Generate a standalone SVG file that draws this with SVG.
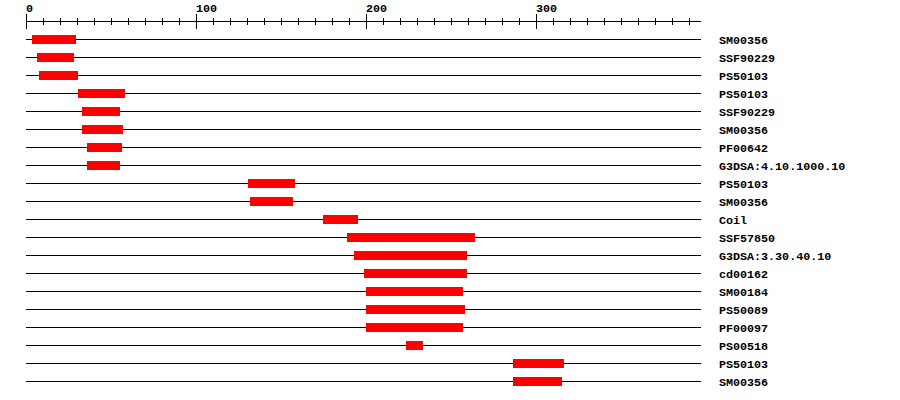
<svg xmlns="http://www.w3.org/2000/svg" width="900" height="400" viewBox="0 0 900 400">
<style>
.bg{fill:#fff}
.ax{stroke:#000;stroke-width:1;fill:none}
.ln{stroke:#000;stroke-width:1}
.bar{fill:#f00}
.t{font-family:"Liberation Mono","DejaVu Sans Mono",monospace;font-weight:bold;font-size:11.7px;fill:#000}
</style>
<rect class="bg" x="0" y="0" width="900" height="400"/>
<g id="ruler">
<line class="ax" x1="26" y1="21.5" x2="701" y2="21.5"/>
<path class="ax" d="M26.5,14V29M196.5,14V29M366.5,14V29M536.5,14V29
M43.5,18V25M60.5,18V25M77.5,18V25M94.5,18V25M111.5,18V25M128.5,18V25M145.5,18V25M162.5,18V25M179.5,18V25
M213.5,18V25M230.5,18V25M247.5,18V25M264.5,18V25M281.5,18V25M298.5,18V25M315.5,18V25M332.5,18V25M349.5,18V25
M383.5,18V25M400.5,18V25M417.5,18V25M434.5,18V25M451.5,18V25M468.5,18V25M485.5,18V25M502.5,18V25M519.5,18V25
M553.5,18V25M570.5,18V25M587.5,18V25M604.5,18V25M621.5,18V25M638.5,18V25M655.5,18V25M672.5,18V25M689.5,18V25"/>
<text class="t" x="26" y="12">0</text>
<text class="t" x="196" y="12">100</text>
<text class="t" x="366" y="12">200</text>
<text class="t" x="536" y="12">300</text>
</g>
<g id="row0"><line class="ln" x1="26" y1="39.5" x2="701" y2="39.5"/><rect class="bar" x="32" y="35" width="44" height="9"/><text class="t" x="719" y="43.5">SM00356</text></g>
<g id="row1"><line class="ln" x1="26" y1="57.5" x2="701" y2="57.5"/><rect class="bar" x="37" y="53" width="37" height="9"/><text class="t" x="719" y="61.5">SSF90229</text></g>
<g id="row2"><line class="ln" x1="26" y1="75.5" x2="701" y2="75.5"/><rect class="bar" x="39" y="71" width="39" height="9"/><text class="t" x="719" y="79.5">PS50103</text></g>
<g id="row3"><line class="ln" x1="26" y1="93.5" x2="701" y2="93.5"/><rect class="bar" x="78" y="89" width="47" height="9"/><text class="t" x="719" y="97.5">PS50103</text></g>
<g id="row4"><line class="ln" x1="26" y1="111.5" x2="701" y2="111.5"/><rect class="bar" x="82" y="107" width="38" height="9"/><text class="t" x="719" y="115.5">SSF90229</text></g>
<g id="row5"><line class="ln" x1="26" y1="129.5" x2="701" y2="129.5"/><rect class="bar" x="82" y="125" width="41" height="9"/><text class="t" x="719" y="133.5">SM00356</text></g>
<g id="row6"><line class="ln" x1="26" y1="147.5" x2="701" y2="147.5"/><rect class="bar" x="87" y="143" width="35" height="9"/><text class="t" x="719" y="151.5">PF00642</text></g>
<g id="row7"><line class="ln" x1="26" y1="165.5" x2="701" y2="165.5"/><rect class="bar" x="87" y="161" width="33" height="9"/><text class="t" x="719" y="169.5">G3DSA:4.10.1000.10</text></g>
<g id="row8"><line class="ln" x1="26" y1="183.5" x2="701" y2="183.5"/><rect class="bar" x="248" y="179" width="47" height="9"/><text class="t" x="719" y="187.5">PS50103</text></g>
<g id="row9"><line class="ln" x1="26" y1="201.5" x2="701" y2="201.5"/><rect class="bar" x="250" y="197" width="43" height="9"/><text class="t" x="719" y="205.5">SM00356</text></g>
<g id="row10"><line class="ln" x1="26" y1="219.5" x2="701" y2="219.5"/><rect class="bar" x="323" y="215" width="35" height="9"/><text class="t" x="719" y="223.5">Coil</text></g>
<g id="row11"><line class="ln" x1="26" y1="237.5" x2="701" y2="237.5"/><rect class="bar" x="347" y="233" width="128" height="9"/><text class="t" x="719" y="241.5">SSF57850</text></g>
<g id="row12"><line class="ln" x1="26" y1="255.5" x2="701" y2="255.5"/><rect class="bar" x="354" y="251" width="113" height="9"/><text class="t" x="719" y="259.5">G3DSA:3.30.40.10</text></g>
<g id="row13"><line class="ln" x1="26" y1="273.5" x2="701" y2="273.5"/><rect class="bar" x="364" y="269" width="103" height="9"/><text class="t" x="719" y="277.5">cd00162</text></g>
<g id="row14"><line class="ln" x1="26" y1="291.5" x2="701" y2="291.5"/><rect class="bar" x="366" y="287" width="97" height="9"/><text class="t" x="719" y="295.5">SM00184</text></g>
<g id="row15"><line class="ln" x1="26" y1="309.5" x2="701" y2="309.5"/><rect class="bar" x="366" y="305" width="99" height="9"/><text class="t" x="719" y="313.5">PS50089</text></g>
<g id="row16"><line class="ln" x1="26" y1="327.5" x2="701" y2="327.5"/><rect class="bar" x="366" y="323" width="97" height="9"/><text class="t" x="719" y="331.5">PF00097</text></g>
<g id="row17"><line class="ln" x1="26" y1="345.5" x2="701" y2="345.5"/><rect class="bar" x="406" y="341" width="17" height="9"/><text class="t" x="719" y="349.5">PS00518</text></g>
<g id="row18"><line class="ln" x1="26" y1="363.5" x2="701" y2="363.5"/><rect class="bar" x="513" y="359" width="51" height="9"/><text class="t" x="719" y="367.5">PS50103</text></g>
<g id="row19"><line class="ln" x1="26" y1="381.5" x2="701" y2="381.5"/><rect class="bar" x="513" y="377" width="49" height="9"/><text class="t" x="719" y="385.5">SM00356</text></g>
</svg>
